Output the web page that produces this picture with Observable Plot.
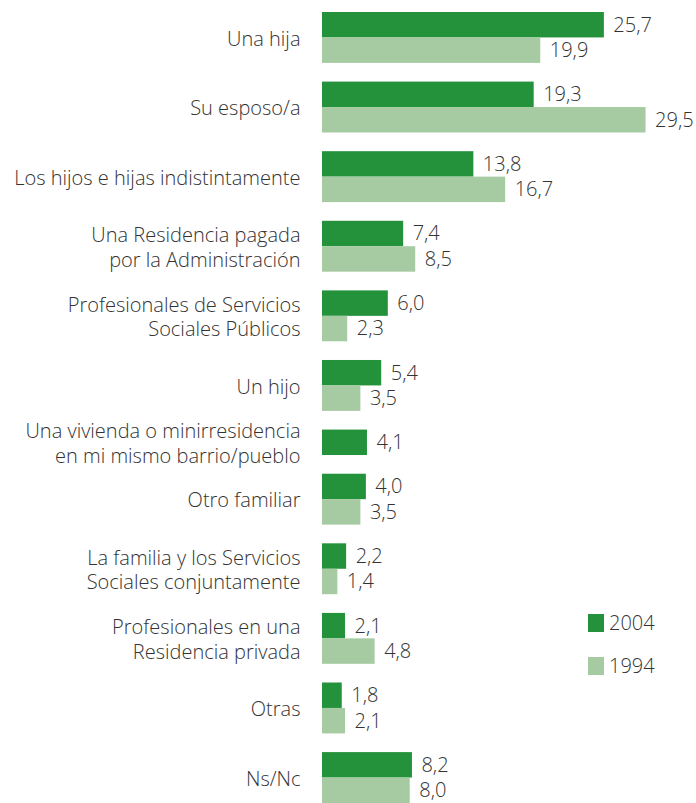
<!DOCTYPE html>
<html><head><meta charset="utf-8">
<script src="https://cdn.jsdelivr.net/npm/d3@7"></script>
<script src="https://cdn.jsdelivr.net/npm/@observablehq/plot@0.6"></script>
<style>
body{margin:0;background:#fff;}
#c{position:relative;width:696px;height:803px;font-family:"Open Sans",sans-serif;font-weight:300;}
.sw{position:absolute;width:16px;height:18px;}
.lt{position:absolute;font-size:20px;color:#333;line-height:20px;}
</style></head>
<body><div id="c"></div>
<script>
const categories = [
  "Una hija",
  "Su esposo/a",
  "Los hijos e hijas indistintamente",
  "Una Residencia pagada\npor la Administración",
  "Profesionales de Servicios\nSociales Públicos",
  "Un hijo",
  "Una vivienda o minirresidencia\nen mi mismo barrio/pueblo",
  "Otro familiar",
  "La familia y los Servicios\nSociales conjuntamente",
  "Profesionales en una\nResidencia privada",
  "Otras",
  "Ns/Nc"
];
const years = ["2004", "1994"];
const v2004 = [25.7, 19.3, 13.8, 7.4, 6.0, 5.4, 4.1, 4.0, 2.2, 2.1, 1.8, 8.2];
const v1994 = [19.9, 29.5, 16.7, 8.5, 2.3, 3.5, null, 3.5, 1.4, 4.8, 2.1, 8.0];
const colors = ["#24913b", "#a6cba2"];

// Layout in "bar units": each bar is 1 unit tall, groups separated by a gap.
const GAP = 0.735;
const bars = [], rows = [];
let pos = 0;
categories.forEach((c, i) => {
  const start = pos;
  [[years[0], v2004[i]], [years[1], v1994[i]]].forEach(([yr, v]) => {
    if (v != null) { bars.push({cat: c, year: yr, value: v, y1: pos, y2: pos + 1}); pos += 1; }
  });
  rows.push({cat: c, mid: (start + pos) / 2});
  pos += GAP;
});
const total = pos - GAP;
const fmt = v => d3.format(".1f")(v).replace(".", ",");

const chart = Plot.plot({
  width: 696, height: 803,
  marginLeft: 322, marginRight: 0, marginTop: 12, marginBottom: 1,
  style: {fontFamily: "'Open Sans', sans-serif", fontWeight: 300, fontSize: "20px", color: "#333", background: "#fff"},
  x: {domain: [0, 34.1], axis: null},
  y: {domain: [0, total], range: [12, 803], axis: null},
  color: {domain: years, range: colors},
  marks: [
    Plot.rectX(bars, {x1: 0, x2: "value", y1: "y1", y2: "y2", fill: "year"}),
    Plot.text(bars, {x: "value", y: d => (d.y1 + d.y2) / 2, text: d => fmt(d.value), dx: 9, textAnchor: "start", fill: "#333", fontSize: 20}),
    Plot.text(rows, {x: 0, y: "mid", text: "cat", dx: -22, textAnchor: "end", lineHeight: 1.22, fill: "#333", fontSize: 20})
  ]
});
const c = document.getElementById("c");
c.appendChild(chart);
const leg = [{y: 614, t: years[0], col: colors[0]}, {y: 657, t: years[1], col: colors[1]}];
leg.forEach(l => {
  const s = document.createElement("div"); s.className = "sw";
  s.style.left = "588px"; s.style.top = l.y + "px"; s.style.background = l.col; c.appendChild(s);
  const t = document.createElement("div"); t.className = "lt";
  t.style.left = "609px"; t.style.top = (l.y - 1) + "px"; t.textContent = l.t; c.appendChild(t);
});
</script></body></html>
